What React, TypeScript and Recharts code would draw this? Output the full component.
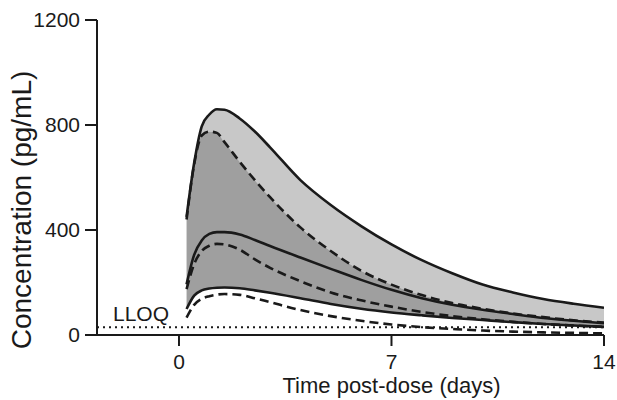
import { ComposedChart, Area, Line, XAxis, YAxis, ReferenceLine, Label } from "recharts";

// time after dose (days)
const TIME = [0.25, 0.5, 0.75, 1, 1.25, 1.5, 2, 2.5, 3, 4, 5, 6, 7, 8, 9, 10, 11, 12, 13, 14];

// outer band (solid) and inner band (dashed) bounds + medians, pg/mL
const outerUpper = [450, 655, 795, 840, 860, 858, 825, 775, 715, 590, 495, 415, 345, 285, 235, 192, 162, 137, 119, 104];
const dashedUpper = [440, 650, 760, 775, 770, 735, 660, 590, 525, 410, 320, 245, 192, 152, 122, 100, 82, 68, 56, 47];
const solidMedian = [193, 305, 360, 385, 392, 392, 383, 362, 339, 295, 252, 210, 172, 140, 115, 96, 80, 65, 54, 45];
const dashedMedian = [175, 270, 320, 340, 347, 345, 325, 288, 256, 205, 162, 132, 108, 88, 72, 60, 50, 42, 36, 31];
const outerLower = [99, 150, 170, 177, 180, 181, 178, 170, 161, 140, 118, 100, 86, 75, 65, 57, 49, 42, 36, 31];
const dashedLower = [66, 115, 138, 148, 154, 156, 153, 140, 125, 95, 72, 54, 40, 30, 23, 17, 13, 10, 8, 6];

const LLOQ = 30;
const X_TICKS = [0, 7, 14];
const Y_TICKS = [0, 400, 800, 1200];

const data = TIME.map((t, i) => ({
  t,
  a: outerUpper[i],
  b: dashedUpper[i],
  c: solidMedian[i],
  d: dashedMedian[i],
  e: outerLower[i],
  f: dashedLower[i],
  light: [dashedUpper[i], outerUpper[i]],
  dark: [outerLower[i], dashedUpper[i]],
}));

const FONT = "'Liberation Sans', Arial, Helvetica, sans-serif";
const INK = "#1a1a1a";

const YTitle = () => (
  <text
    x={21}
    y={210}
    transform="rotate(-90 21 210)"
    textAnchor="middle"
    dominantBaseline="central"
    fill={INK}
    fontSize={28}
  >
    Concentration (pg/mL)
  </text>
);

const App = () => {
  return (
    <div style={{ position: "fixed", left: 0, top: 0, width: 617, height: 400, background: "#fff" }}>
      <ComposedChart
        width={617}
        height={400}
        data={data}
        margin={{ top: 20, right: 13, bottom: 5, left: 0 }}
        style={{ fontFamily: FONT }}
      >
        <XAxis
          dataKey="t"
          type="number"
          domain={[-2.7, 14]}
          ticks={X_TICKS}
          allowDataOverflow
          height={60}
          tickSize={11}
          tickMargin={8}
          axisLine={{ stroke: INK, strokeWidth: 2 }}
          tickLine={{ stroke: INK, strokeWidth: 2 }}
          tick={{ fill: INK, fontSize: 21 }}
        >
          <Label
            value="Time post-dose (days)"
            position="insideBottom"
            offset={2}
            dx={41}
            style={{ fill: INK, fontSize: 22 }}
          />
        </XAxis>
        <YAxis
          type="number"
          domain={[0, 1200]}
          ticks={Y_TICKS}
          width={97}
          tickSize={12}
          tickMargin={5}
          axisLine={{ stroke: INK, strokeWidth: 2 }}
          tickLine={{ stroke: INK, strokeWidth: 2 }}
          tick={{ fill: INK, fontSize: 21 }}
        >
          <Label content={YTitle} />
        </YAxis>

        <Area dataKey="light" type="monotone" fill="#c8c8c8" fillOpacity={1} stroke="none" isAnimationActive={false} />
        <Area dataKey="dark" type="monotone" fill="#9f9f9f" fillOpacity={1} stroke="none" isAnimationActive={false} />

        <ReferenceLine y={LLOQ} stroke={INK} strokeWidth={2} strokeDasharray="2 4">
          <Label
            value="LLOQ"
            position="insideBottomLeft"
            offset={6}
            dx={10}
            style={{ fill: INK, fontSize: 21 }}
          />
        </ReferenceLine>

        <Line dataKey="a" type="monotone" stroke={INK} strokeWidth={2.6} dot={false} isAnimationActive={false} />
        <Line dataKey="c" type="monotone" stroke={INK} strokeWidth={2.6} dot={false} isAnimationActive={false} />
        <Line dataKey="e" type="monotone" stroke={INK} strokeWidth={2.6} dot={false} isAnimationActive={false} />
        <Line dataKey="b" type="monotone" stroke={INK} strokeWidth={2.6} strokeDasharray="9 5" dot={false} isAnimationActive={false} />
        <Line dataKey="d" type="monotone" stroke={INK} strokeWidth={2.6} strokeDasharray="9 5" dot={false} isAnimationActive={false} />
        <Line dataKey="f" type="monotone" stroke={INK} strokeWidth={2.6} strokeDasharray="9 5" dot={false} isAnimationActive={false} />
      </ComposedChart>
    </div>
  );
};

export default App;
